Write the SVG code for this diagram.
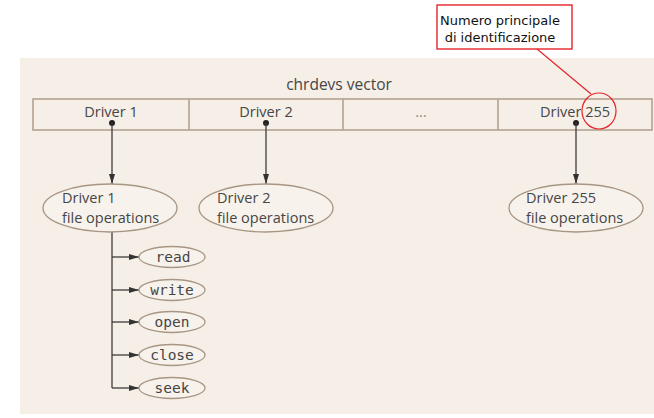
<svg xmlns="http://www.w3.org/2000/svg" width="654" height="418" viewBox="0 0 654 418">
  <style>
    .panel { fill: #f5efe8; }
    .cell { fill: none; stroke: #b3a291; stroke-width: 1.6; }
    .lbl { font-family: "Open Sans", "Noto Sans", sans-serif; font-size: 14.5px; fill: #464646; }
    .node { fill: #f7f2ec; stroke: #a89683; stroke-width: 1.3; }
    .ntext { font-family: "Open Sans", "Noto Sans", sans-serif; font-size: 14.5px; fill: #464646; }
    .op { fill: #f7f2ec; stroke: #a89683; stroke-width: 1.3; }
    .optext { font-family: "DejaVu Sans Mono", "Liberation Mono", monospace; font-size: 14.5px; fill: #464646; text-anchor: middle; }
    .wire { fill: none; stroke: #3c3c3c; stroke-width: 1.3; }
    .dot { fill: #222; }
    .callout { fill: #ffffff; stroke: #e5262a; stroke-width: 1.4; }
    .red { fill: none; stroke: #e5262a; stroke-width: 1.2; }
    .ctext { font-family: "Comic Sans MS", "DejaVu Sans", sans-serif; font-size: 13px; fill: #111; text-anchor: middle; }
  </style>
  <defs>
    <marker id="arrow" viewBox="0 0 10 6" refX="10" refY="3" markerWidth="10" markerHeight="6" markerUnits="userSpaceOnUse" orient="auto">
      <path d="M0,0 L10,3 L0,6 Z" fill="#333"/>
    </marker>
  </defs>

  <rect class="panel" x="20" y="58" width="634" height="356"/>

  <!-- chrdevs vector table -->
  <g id="chrdevs">
    <text class="lbl" x="339" y="90" text-anchor="middle" style="font-size:15.5px">chrdevs vector</text>
    <rect class="cell" x="33" y="99" width="619" height="31"/>
    <line class="cell" x1="189" y1="99" x2="189" y2="130"/>
    <line class="cell" x1="343" y1="99" x2="343" y2="130"/>
    <line class="cell" x1="498" y1="99" x2="498" y2="130"/>
    <text class="lbl" x="111" y="117" text-anchor="middle">Driver 1</text>
    <text class="lbl" x="266" y="117" text-anchor="middle">Driver 2</text>
    <text class="lbl" x="421" y="117" text-anchor="middle" style="fill:#8a8a8a">...</text>
    <text class="lbl" x="575" y="117" text-anchor="middle">Driver 255</text>
  </g>

  <!-- connectors -->
  <g id="connectors">
    <circle class="dot" cx="112" cy="123" r="3"/>
    <circle class="dot" cx="266" cy="123" r="3"/>
    <circle class="dot" cx="576" cy="123" r="3"/>
    <line class="wire" x1="112" y1="123" x2="112" y2="184" marker-end="url(#arrow)"/>
    <line class="wire" x1="266" y1="123" x2="266" y2="184" marker-end="url(#arrow)"/>
    <line class="wire" x1="576" y1="123" x2="576" y2="184" marker-end="url(#arrow)"/>
    <path class="wire" d="M112,232 V388"/>
    <line class="wire" x1="112" y1="257" x2="139" y2="257" marker-end="url(#arrow)"/>
    <line class="wire" x1="112" y1="290" x2="139" y2="290" marker-end="url(#arrow)"/>
    <line class="wire" x1="112" y1="322" x2="139" y2="322" marker-end="url(#arrow)"/>
    <line class="wire" x1="112" y1="355" x2="139" y2="355" marker-end="url(#arrow)"/>
    <line class="wire" x1="112" y1="388" x2="139" y2="388" marker-end="url(#arrow)"/>
  </g>

  <!-- file operations tables -->
  <g id="fops1">
    <ellipse class="node" cx="110" cy="208" rx="67" ry="24"/>
    <text class="ntext" x="62" y="203">Driver 1</text>
    <text class="ntext" x="62" y="223">file operations</text>
  </g>
  <g id="fops2">
    <ellipse class="node" cx="266" cy="208" rx="67" ry="24"/>
    <text class="ntext" x="217" y="203">Driver 2</text>
    <text class="ntext" x="217" y="223">file operations</text>
  </g>
  <g id="fops255">
    <ellipse class="node" cx="576" cy="208" rx="67" ry="24"/>
    <text class="ntext" x="526" y="203">Driver 255</text>
    <text class="ntext" x="526" y="223">file operations</text>
  </g>

  <!-- operations of driver 1 -->
  <g id="op-read">
    <ellipse class="op" cx="172" cy="257" rx="33" ry="10.5"/>
    <text class="optext" x="173" y="262">read</text>
  </g>
  <g id="op-write">
    <ellipse class="op" cx="172" cy="290" rx="33" ry="10.5"/>
    <text class="optext" x="172" y="295">write</text>
  </g>
  <g id="op-open">
    <ellipse class="op" cx="172" cy="322" rx="33" ry="10.5"/>
    <text class="optext" x="172" y="327">open</text>
  </g>
  <g id="op-close">
    <ellipse class="op" cx="172" cy="355" rx="33" ry="10.5"/>
    <text class="optext" x="172" y="360">close</text>
  </g>
  <g id="op-seek">
    <ellipse class="op" cx="172" cy="388" rx="33" ry="10.5"/>
    <text class="optext" x="172" y="393">seek</text>
  </g>

  <!-- major number annotation -->
  <g id="note">
    <rect class="callout" x="437" y="5" width="135" height="44"/>
    <text class="ctext" x="500" y="25">Numero principale</text>
    <text class="ctext" x="500" y="42">di identificazione</text>
    <line class="red" x1="537" y1="49" x2="591" y2="94"/>
    <ellipse class="red" cx="599" cy="111" rx="17" ry="18"/>
  </g>
</svg>
